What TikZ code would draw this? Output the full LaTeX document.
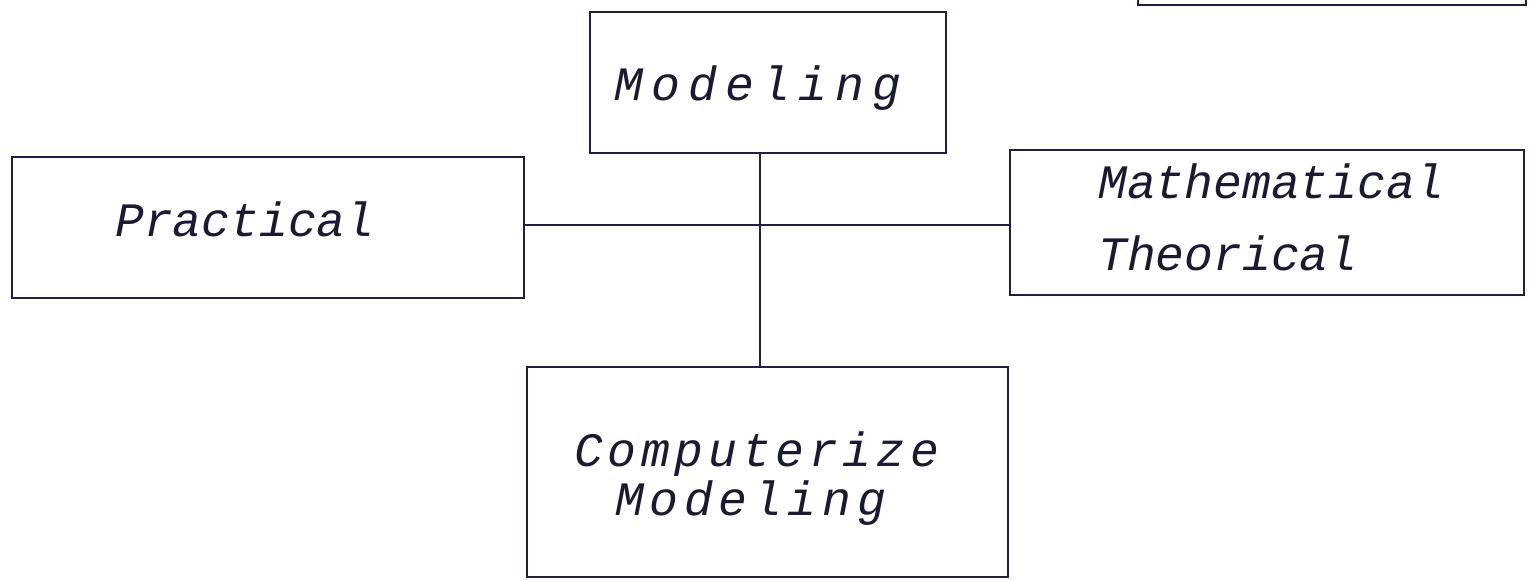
\documentclass[tikz,border=0pt]{standalone}
\usepackage{fontspec}
\newfontfamily\handfont{Liberation Mono}
\usetikzlibrary{calc}
\definecolor{ink}{HTML}{1E1E46}
\definecolor{pen}{HTML}{1A1A30}
\tikzset{
  box/.style={draw=ink, line width=2.8pt, rectangle, inner sep=0pt},
  lbl/.style={text=pen, font=\handfont\itshape\fontsize{48}{54}\selectfont, inner sep=0pt},
  spread/.style={font=\handfont\itshape\fontsize{48}{54}\selectfont\addfontfeature{LetterSpace=#1}},
  wire/.style={draw=ink, line width=2.8pt}
}
\begin{document}
\begin{tikzpicture}[x=1pt,y=-1pt]
  \useasboundingbox[fill=white] (0,0) rectangle (1532,579);

  % boxes
  \node[box, minimum width=356pt, minimum height=141pt] (mod)  at (768,82.5) {};
  \node[box, minimum width=512pt, minimum height=141pt] (prac) at (268,227.5) {};
  \node[box, minimum width=514pt, minimum height=145pt] (math) at (1267,222.5) {};
  \node[box, minimum width=481pt, minimum height=210pt] (comp) at (767.5,472) {};

  % box partly cut off at the top edge
  \draw[wire] (1138,-10) -- (1138,5) -- (1526,5) -- (1526,-10);

  % labels
  \node[lbl, spread=17, anchor=base west] (tmod)  at (614,100) {Modeling};
  \node[lbl, anchor=base west] (tprac) at (115,236) {Practical};
  \node[lbl, anchor=base west] (tmath) at (1098,198) {Mathematical};
  \node[lbl, anchor=base west] (tthe)  at (1098,270) {Theorical};
  \node[lbl, spread=10, anchor=base west] (tcomp) at (574,466) {Computerize};
  \node[lbl, spread=12, anchor=base west] (tcmod) at (615,515) {Modeling};

  % connectors crossing at the hub
  \coordinate (hub) at (760,225);
  \draw[wire] (mod.south -| hub) -- (comp.north -| hub);
  \draw[wire] (prac.east |- hub) -- (math.west |- hub);
\end{tikzpicture}
\end{document}
